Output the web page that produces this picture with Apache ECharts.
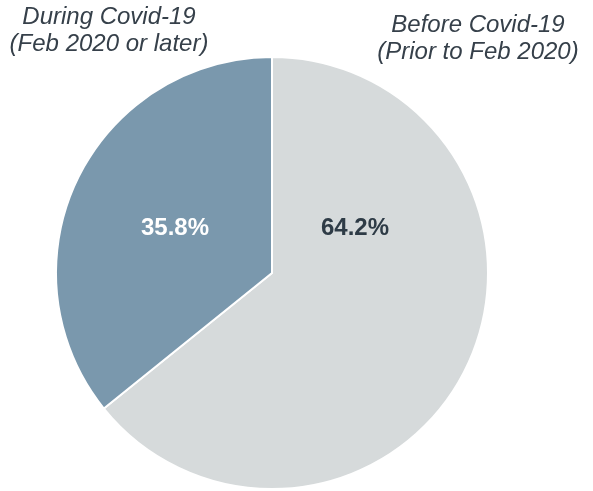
<!DOCTYPE html>
<html>
<head>
<meta charset="utf-8">
<script src="https://cdn.jsdelivr.net/npm/echarts@6/dist/echarts.min.js"></script>
<style>
  html, body { margin: 0; padding: 0; background: #fff; }
  #chart { width: 593px; height: 491px; }
</style>
</head>
<body>
<div id="chart"></div>
<script>
// 数据
const categories = ['Before Covid-19\n(Prior to Feb 2020)', 'During Covid-19\n(Feb 2020 or later)']
const shares = [64.2, 35.8]
const sliceColors = ['#d6dadb', '#7a98ad']
const pctColors = ['#2e3b46', '#ffffff']

const pieData = categories.map((name, i) => ({
  name: name,
  value: shares[i],
  itemStyle: { color: sliceColors[i] },
  label: { color: pctColors[i] }
}))

// 标签位置
const pctPos = [[355, 228], [175, 228]]
const namePos = [[478, 39], [109, 31]]

const myChart = echarts.init(document.getElementById('chart'))
myChart.setOption({
  animation: false,
  series: [
    {
      type: 'pie',
      center: [272, 273],
      radius: [0, 216],
      startAngle: 90,
      clockwise: true,
      silent: true,
      itemStyle: { borderColor: '#fff', borderWidth: 2 },
      label: {
        position: 'inside',
        formatter: p => p.value.toFixed(1) + '%',
        fontFamily: 'Liberation Sans, Arial, sans-serif',
        fontSize: 24,
        fontWeight: 'bold'
      },
      labelLayout: p => ({ x: pctPos[p.dataIndex][0], y: pctPos[p.dataIndex][1], align: 'center', verticalAlign: 'middle' }),
      data: pieData
    },
    {
      type: 'pie',
      center: [272, 273],
      radius: [0, 216],
      startAngle: 90,
      clockwise: true,
      silent: true,
      z: 1,
      itemStyle: { color: 'rgba(0,0,0,0)' },
      label: {
        position: 'inside',
        formatter: '{b}',
        color: '#36404a',
        fontFamily: 'Liberation Sans, Arial, sans-serif',
        fontSize: 24,
        fontStyle: 'italic',
        lineHeight: 27,
        align: 'center'
      },
      labelLayout: p => ({ x: namePos[p.dataIndex][0], y: namePos[p.dataIndex][1], align: 'center', verticalAlign: 'middle' }),
      data: categories.map((name, i) => ({ name: name, value: shares[i] }))
    }
  ]
})
</script>
</body>
</html>
